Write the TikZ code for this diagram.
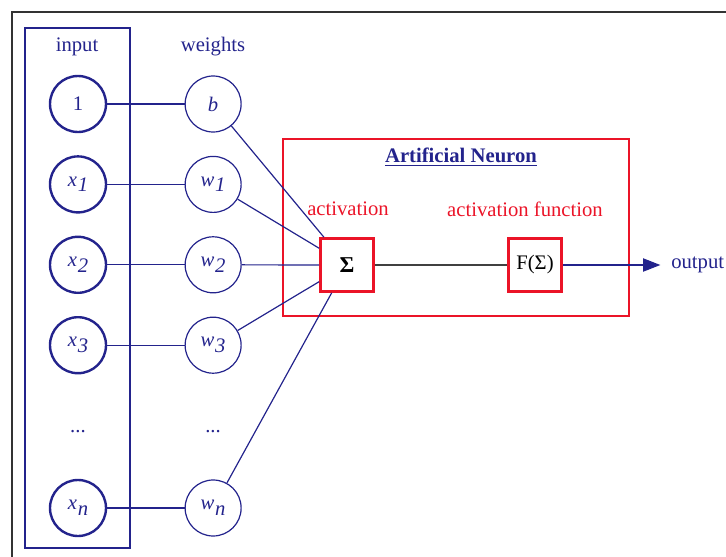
\documentclass[tikz,border=0pt]{standalone}
\usepackage{fontspec}
\setmainfont{Liberation Serif}
\usetikzlibrary{%
  positioning,
  arrows.meta,
}
\definecolor{navy}{RGB}{35,35,140}
\definecolor{neuronred}{RGB}{235,20,40}
\newcommand{\sub}[2]{\textit{#1\kern0.5pt\raisebox{-0.6ex}{#2}}}

\begin{document}
\begin{tikzpicture}[%
           x=0.75pt, y=-0.75pt,
           node distance=16.5pt and 58pt,
           font=\fontsize{15.5}{18}\selectfont,
           inputnode/.style={
             % The shape:
             circle,
             % The size:
             minimum size=42pt,
             inner sep=0pt,
             % The border:
             line width=1.8pt,
             draw=navy,
             text=navy,
           },
           weightnode/.style={
             circle,
             minimum size=42pt,
             inner sep=0pt,
             line width=0.9pt,
             draw=navy,
             text=navy,
           },
           unitbox/.style={
             % red square boxes in the neuron
             rectangle,
             minimum size=40pt,
             line width=1.8pt,
             draw=neuronred,
             fill=white,
           },
           link/.style={
             line width=0.9pt,
             color=navy,
           }]

         % the outer frame (cut off at the right and bottom)
         \useasboundingbox (0,0) rectangle (726,557);
         \draw[line width=1.5pt, black!80] (12,560) -- (12,12) -- (730,12);

         % input column
         \draw[line width=2.2pt, navy] (25,28) rectangle (130,548);
         \node[text=navy] (inputlabel) at (77,47) {input};
         \node[inputnode] (in0) at (78,104) {1};
         \node[inputnode, below=of in0] (in1) {\sub{x}{1}};
         \node[inputnode, below=of in1] (in2) {\sub{x}{2}};
         \node[inputnode, below=of in2] (in3) {\sub{x}{3}};
         \node[text=navy] (indots) at (78,432) {...};
         \node[inputnode] (inn) at (78,508) {\sub{x}{n}};

         % weights column
         \node[text=navy] (weightlabel) at (213,47) {weights};
         \node[weightnode, right=of in0] (w0) {\textit{b}};
         \node[weightnode, right=of in1] (w1) {\sub{w}{1}};
         \node[weightnode, right=of in2] (w2) {\sub{w}{2}};
         \node[weightnode, right=of in3] (w3) {\sub{w}{3}};
         \node[text=navy] (wdots) at (213,432) {...};
         \node[weightnode, right=of inn] (wn) {\sub{w}{n}};

         % the neuron
         \node[draw=neuronred, line width=1.8pt, minimum width=259.5pt,
               minimum height=132.75pt] (neuron) at (456,227.5) {};
         \node[text=navy, font=\fontsize{15.5}{18}\selectfont\bfseries] (title) at (461,157) {\underline{Artificial Neuron}};
         \node[text=neuronred] (actlabel) at (348,209) {activation};
         \node[text=neuronred] (funclabel) at (525,209) {activation function};
         \node[unitbox, font=\fontsize{17}{19}\selectfont\bfseries] (sum) at (347,265) {Σ};
         \node[unitbox] (func) at (535,265) {F(Σ)};
         \node[text=navy, anchor=west, inner sep=0pt] (out) at (671,265) {output};

         \foreach \i in {0,1,2,3,n}
           \draw[link] (in\i) -- (w\i);
         \foreach \i in {0,1,2,3,n}
           \draw[link] (w\i) -- (sum);
         \draw[line width=0.9pt, black!75] (sum) -- (func);
         \draw[link, -{Triangle[length=13pt, width=10pt]}, shorten >=8pt] (func) -- (out.west);
       \end{tikzpicture}
\end{document}
